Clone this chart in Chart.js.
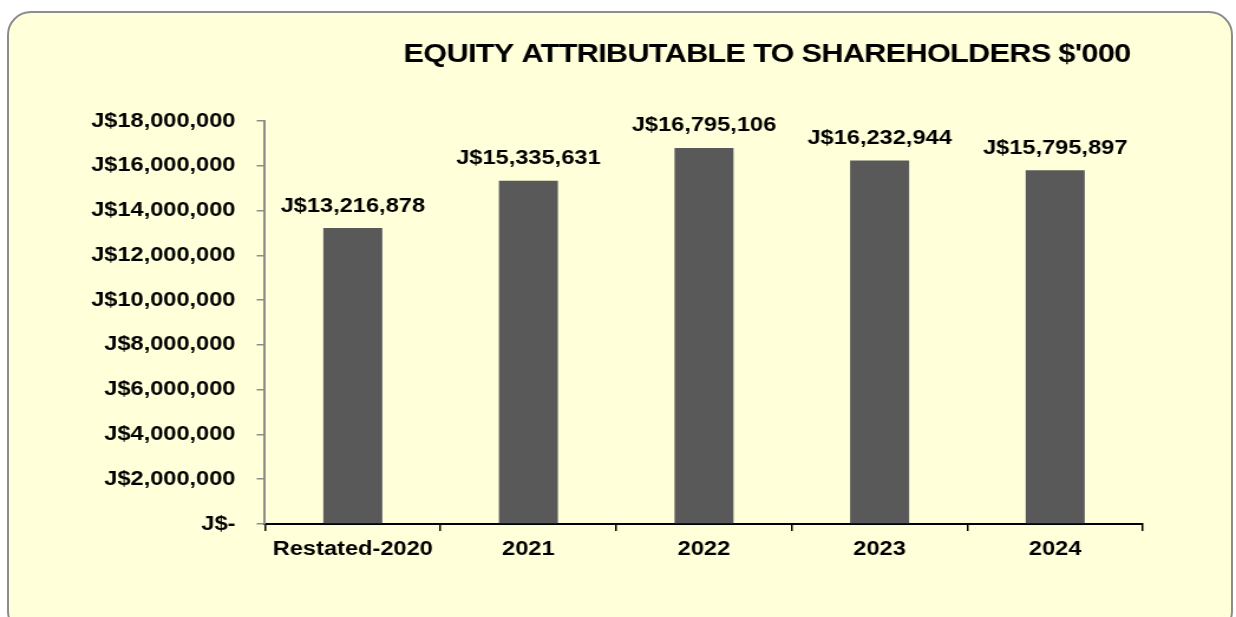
<!DOCTYPE html>
<html>
<head>
<meta charset="utf-8">
<script src="https://cdn.jsdelivr.net/npm/chart.js@4.4.1/dist/chart.umd.min.js"></script>
<style>
  html, body { margin: 0; padding: 0; background: #ffffff; }
  #wrap { position: relative; width: 1236px; height: 617px; overflow: hidden; }
  #card {
    position: absolute; left: 7px; top: 11px; width: 1222px; height: 620px;
    background: #ffffd9; border: 2px solid #8c8c8c; border-radius: 24px;
  }
  #grafico { position: absolute; left: 0; top: 0; }
</style>
</head>
<body>
<div id="wrap">
  <div id="card"></div>
  <!-- el grafico original viene estirado a lo ancho, asi que el canvas se dibuja mas angosto y se estira por CSS -->
  <canvas id="grafico" width="1047" height="617" style="width:1236px;height:617px"></canvas>
</div>
<script>
// datos
const categorias = ["Restated-2020", "2021", "2022", "2023", "2024"];
const equity = [13216878, 15335631, 16795106, 16232944, 15795897];
const titulo = "EQUITY ATTRIBUTABLE TO SHAREHOLDERS $'000";
const yMax = 18000000;
const yPaso = 2000000;

const fuente = "'Liberation Sans', Arial, sans-serif";
const estirado = 1236 / 1047;   // factor horizontal

function formatoJ(v) {
    if (v === 0) return "J$-";
    return "J$" + v.toLocaleString("en-US");
}

// titulo y etiquetas de valores
const extras = {
    id: "extras",
    afterDatasetsDraw(chart) {
        const ctx = chart.ctx;
        ctx.save();
        ctx.fillStyle = "#000";
        ctx.textAlign = "center";

        // titulo
        ctx.font = "bold 26px " + fuente;
        ctx.letterSpacing = "-0.6px";
        ctx.textBaseline = "middle";
        ctx.fillText(titulo, 767 / estirado, 55);
        ctx.letterSpacing = "0px";

        // valores sobre las barras
        ctx.font = "bold 20px " + fuente;
        ctx.textBaseline = "bottom";
        const meta = chart.getDatasetMeta(0);
        meta.data.forEach((bar, i) => {
            ctx.fillText(formatoJ(equity[i]), bar.x, bar.y - 12);
        });
        ctx.restore();
    }
};

const ctx = document.getElementById("grafico").getContext("2d");
const grafico = new Chart(ctx, {
    type: "bar",
    data: {
        labels: categorias,
        datasets: [{
            data: equity,
            backgroundColor: "#595959",
            borderWidth: 0,
            barPercentage: 0.336,
            categoryPercentage: 1.0
        }]
    },
    options: {
        responsive: false,
        animation: false,
        layout: { padding: { left: 0, right: 93 / estirado, top: 121, bottom: 0 } },
        plugins: {
            legend: { display: false },
            title: { display: false },
            tooltip: { enabled: false }
        },
        scales: {
            x: {
                offset: true,
                grid: { offset: true, drawOnChartArea: false, tickLength: 7, color: "#000", lineWidth: 1.5 },
                border: { color: "#000", width: 2 },
                ticks: { color: "#000", padding: 6, font: { family: fuente, size: 20, weight: "bold" } },
                afterFit(scale) { scale.height = 93; }
            },
            y: {
                min: 0,
                max: yMax,
                grid: { drawOnChartArea: false, tickLength: 7, color: "#8c8c8c", lineWidth: 1.5 },
                border: { color: "#8c8c8c", width: 2 },
                ticks: {
                    stepSize: yPaso,
                    color: "#000",
                    padding: 18,
                    font: { family: fuente, size: 20, weight: "bold" },
                    callback: (v) => formatoJ(v)
                },
                afterFit(scale) { scale.width = 265 / estirado; }
            }
        }
    },
    plugins: [extras]
});
</script>
</body>
</html>
